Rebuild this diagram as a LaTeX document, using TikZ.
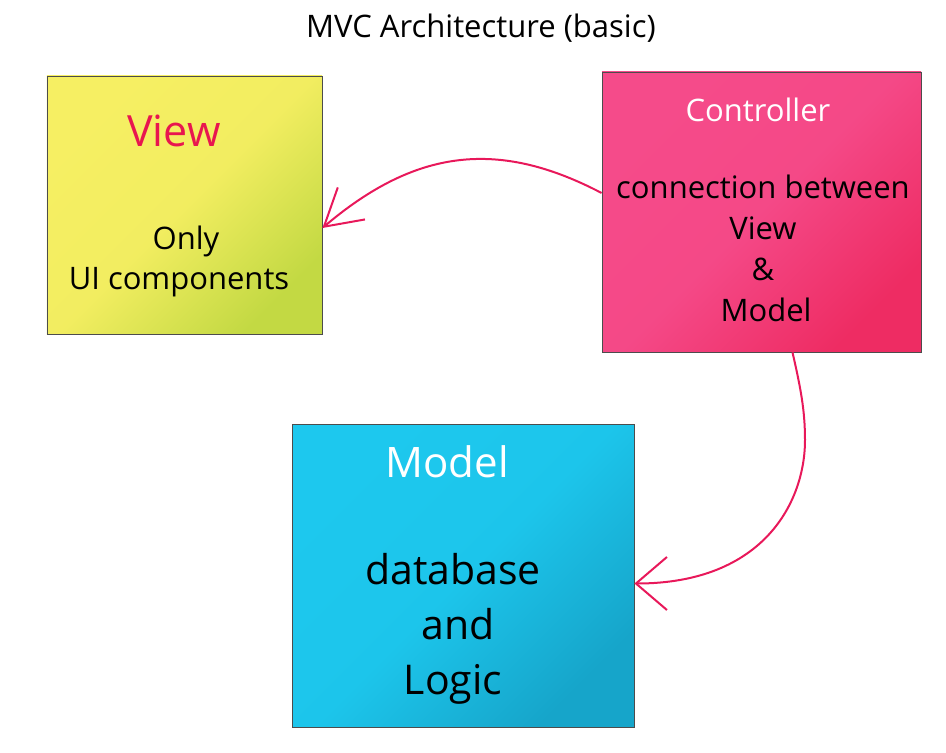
\documentclass[tikz,border=0pt]{standalone}
\usepackage{fontspec}
\setmainfont{Open Sans}
\usetikzlibrary{arrows.meta}
\definecolor{arrowpink}{HTML}{E8185A}
\definecolor{viewred}{HTML}{E8164F}
\definecolor{yellowA}{HTML}{F6EF63}
\definecolor{yellowB}{HTML}{C3D943}
\definecolor{pinkA}{HTML}{F54B8A}
\definecolor{pinkB}{HTML}{EE2C63}
\definecolor{cyanA}{HTML}{1DC8EE}
\definecolor{cyanB}{HTML}{16A5CA}
\tikzset{
  box/.style={draw=black!70, line width=0.8bp, rectangle, inner sep=0pt},
  txt/.style={inner sep=0pt, anchor=base},
  conn/.style={draw=arrowpink, line width=2bp},
  headA/.style={-{Straight Barb[length=36bp,width=42bp,line width=2bp]}},
  headB/.style={-{Straight Barb[length=31bp,width=53bp,line width=2bp]}},
}
\newcommand{\fs}[1]{\fontsize{#1bp}{#1bp}\selectfont}
\begin{document}
\begin{tikzpicture}[x=1bp,y=-1bp]
\useasboundingbox (0,0) rectangle (946,753);
\node[txt] (title) at (481,38) {\fs{31}MVC Architecture (basic)};
% boxes
\node[box, minimum width=275bp, minimum height=258bp, top color=yellowA, bottom color=yellowB, middle color=yellowA!92!yellowB, shading angle=45] (view) at (184.5,205) {};
\node[box, minimum width=319bp, minimum height=280bp, top color=pinkA, bottom color=pinkB, middle color=pinkA!92!pinkB, shading angle=45] (ctrl) at (761.5,212) {};
\node[box, minimum width=342bp, minimum height=303bp, top color=cyanA, bottom color=cyanB, middle color=cyanA!92!cyanB, shading angle=45] (model) at (463,575.5) {};
% view texts
\node[txt, text=viewred] (vt) at (174,146) {\fs{43}View};
\node[txt] (v1) at (186,249) {\fs{31}Only};
\node[txt] (v2) at (179,289) {\fs{31}UI components};
% controller texts
\node[txt, text=white] (ct) at (758,121) {\fs{31}Controller};
\node[txt] (c1) at (763,198) {\fs{31}connection between};
\node[txt] (c2) at (763,239) {\fs{31}View};
\node[txt] (c3) at (763,280) {\fs{31}\&};
\node[txt] (c4) at (766,321) {\fs{31}Model};
% model texts
\node[txt, text=white] (mt) at (447,477) {\fs{42}Model};
\node[txt] (m1) at (453,584) {\fs{41}database};
\node[txt] (m2) at (458,639) {\fs{41}and};
\node[txt] (m3) at (453,694) {\fs{41}Logic};
% connectors
\coordinate (bend) at (805,440);
\draw[conn, headA] ([yshift=19bp]ctrl.west) .. controls +(-105,-55) and +(92,-78) .. ([yshift=-23bp]view.east);
\draw[conn, headB] ([xshift=31bp]ctrl.south) .. controls +(8,35) and +(0,-30) .. (bend)
  .. controls +(0,61) and +(130,0) .. ([yshift=-8bp]model.east);
\end{tikzpicture}
\end{document}
